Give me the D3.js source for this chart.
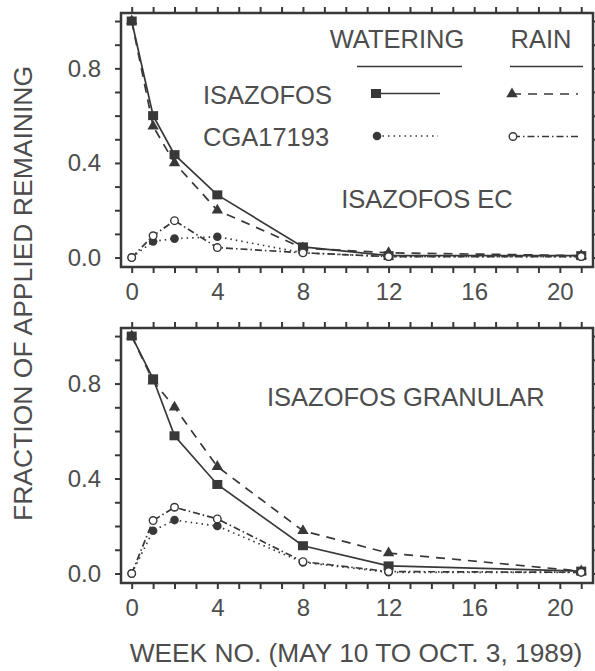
<!DOCTYPE html>
<html>
<head>
<meta charset="utf-8">
<script src="https://cdn.jsdelivr.net/npm/d3@7"></script>
<style>
  body { margin: 0; background: #fff; }
  svg { display: block; font-family: "Liberation Sans", Arial, sans-serif; }
</style>
</head>
<body>
<svg id="chart" width="595" height="671"></svg>
<script>
const weeks = [0, 1, 2, 4, 8, 12, 21];

// isazofos EC panel
const ecWaterIsa = [1.0, 0.60, 0.435, 0.265, 0.045, 0.008, 0.008];
const ecRainIsa = [1.0, 0.555, 0.40, 0.20, 0.04, 0.02, 0.008];
const ecWaterCga = [0.0, 0.068, 0.08, 0.088, 0.02, 0.004, 0.004];
const ecRainCga = [0.0, 0.092, 0.156, 0.042, 0.02, 0.004, 0.004];

// isazofos granular panel
const grWaterIsa = [1.0, 0.82, 0.58, 0.375, 0.117, 0.032, 0.01];
const grRainIsa = [1.0, 0.81, 0.70, 0.45, 0.18, 0.086, 0.01];
const grWaterCga = [0.0, 0.18, 0.225, 0.20, 0.047, 0.005, 0.005];
const grRainCga = [0.0, 0.223, 0.279, 0.23, 0.05, 0.008, 0.005];

const xTicks = d3.range(0, 22);
const xLabels = [0, 4, 8, 12, 16, 20];
const yTicks = d3.range(0, 11).map(d => d / 10);
const yLabels = [0, 0.4, 0.8];

const ink = "#383838";
const textInk = "#4d4d4d";

const series = [
  { key: "waterIsa", marker: "square", dash: null },
  { key: "rainIsa", marker: "triangle", dash: "9,7" },
  { key: "waterCga", marker: "dot", dash: "1.5,4" },
  { key: "rainCga", marker: "ring", dash: "7,3,1.5,3" },
];

const svg = d3.select("#chart");

const x = d3.scaleLinear().domain([-0.5, 21.55]).range([121, 593]);

function drawMarker(g, type, cx, cy) {
  if (type === "square") {
    g.append("rect").attr("x", cx - 5).attr("y", cy - 4.5).attr("width", 10).attr("height", 9)
      .attr("fill", ink);
  } else if (type === "triangle") {
    g.append("path").attr("d", d3.symbol(d3.symbolTriangle, 56)())
      .attr("transform", `translate(${cx},${cy})`).attr("fill", ink);
  } else if (type === "dot") {
    g.append("circle").attr("cx", cx).attr("cy", cy).attr("r", 4.3).attr("fill", ink);
  } else {
    g.append("circle").attr("cx", cx).attr("cy", cy).attr("r", 3.8)
      .attr("fill", "#fff").attr("stroke", ink).attr("stroke-width", 1.4);
  }
}

function drawPanel(top, bottom, data) {
  const y = d3.scaleLinear().domain([-0.04, 1.034]).range([bottom, top]);
  const g = svg.append("g");

  const tickStyle = sel => {
    sel.select(".domain").remove();
    sel.selectAll("line").attr("stroke", ink).attr("stroke-width", 2);
    sel.selectAll("text").attr("fill", textInk).style("font-size", "24px")
      .attr("font-family", "'Liberation Sans', Arial, sans-serif");
  };

  g.append("g").attr("transform", `translate(0,${bottom})`)
    .call(d3.axisBottom(x).tickValues(xTicks).tickSize(6).tickPadding(10)
      .tickFormat(d => xLabels.includes(d) ? d : ""))
    .call(tickStyle);
  g.append("g").attr("transform", `translate(0,${top})`)
    .call(d3.axisTop(x).tickValues(xTicks).tickSize(6).tickFormat(""))
    .call(tickStyle);
  g.append("g").attr("transform", `translate(${x.range()[0]},0)`)
    .call(d3.axisLeft(y).tickValues(yTicks).tickSize(6).tickPadding(14)
      .tickFormat(d => yLabels.some(v => Math.abs(v - d) < 1e-6) ? d3.format(".1f")(d) : ""))
    .call(tickStyle);
  g.append("g").attr("transform", `translate(${x.range()[1]},0)`)
    .call(d3.axisRight(y).tickValues(yTicks).tickSize(6).tickFormat(""))
    .call(tickStyle);

  g.append("rect")
    .attr("x", x.range()[0]).attr("y", top)
    .attr("width", x.range()[1] - x.range()[0]).attr("height", bottom - top)
    .attr("fill", "none").attr("stroke", ink).attr("stroke-width", 2.5);

  const line = d3.line().x(d => x(d[0])).y(d => y(d[1]));

  series.forEach(s => {
    const pts = weeks.map((w, i) => [w, data[s.key][i]]);
    g.append("path").datum(pts).attr("d", line)
      .attr("fill", "none").attr("stroke", ink).attr("stroke-width", 1.7)
      .attr("stroke-dasharray", s.dash);
    pts.forEach(p => drawMarker(g, s.marker, x(p[0]), y(p[1])));
  });

  return g;
}

const ec = drawPanel(13, 267, {
  waterIsa: ecWaterIsa, rainIsa: ecRainIsa, waterCga: ecWaterCga, rainCga: ecRainCga,
});
const gr = drawPanel(328, 583, {
  waterIsa: grWaterIsa, rainIsa: grRainIsa, waterCga: grWaterCga, rainCga: grRainCga,
});

function label(txt, lx, ly, anchor = "start", size = 25.5) {
  return svg.append("text").attr("x", lx).attr("y", ly).attr("text-anchor", anchor)
    .attr("fill", textInk).style("font-size", size + "px").text(txt);
}

// legend
label("WATERING", 397, 48, "middle");
label("RAIN", 541, 48, "middle");
svg.append("line").attr("x1", 357).attr("x2", 462).attr("y1", 66.5).attr("y2", 66.5)
  .attr("stroke", ink).attr("stroke-width", 1.6);
svg.append("line").attr("x1", 510).attr("x2", 583).attr("y1", 66.5).attr("y2", 66.5)
  .attr("stroke", ink).attr("stroke-width", 1.6);
label("ISAZOFOS", 203, 104);
label("CGA17193", 203, 146);

const legendRows = [
  { s: series[0], x1: 376, x2: 440, y: 93.5 },
  { s: series[1], x1: 512, x2: 578, y: 94 },
  { s: series[2], x1: 377, x2: 438, y: 136 },
  { s: series[3], x1: 513, x2: 580, y: 136.5 },
];
const lg = svg.append("g");
legendRows.forEach(r => {
  lg.append("line").attr("x1", r.x1).attr("x2", r.x2).attr("y1", r.y).attr("y2", r.y)
    .attr("stroke", ink).attr("stroke-width", 1.6).attr("stroke-dasharray", r.s.dash);
  drawMarker(lg, r.s.marker, r.x1, r.y);
});

label("ISAZOFOS EC", 427, 208, "middle");
label("ISAZOFOS GRANULAR", 267, 406);

// axis titles
label("WEEK NO. (MAY 10 TO OCT. 3, 1989)", 356, 662, "middle", 26.3);
svg.append("text")
  .attr("transform", "translate(32,293.5) rotate(-90)")
  .attr("text-anchor", "middle").attr("fill", textInk).style("font-size", "26.5px")
  .text("FRACTION OF APPLIED REMAINING");
</script>
</body>
</html>
